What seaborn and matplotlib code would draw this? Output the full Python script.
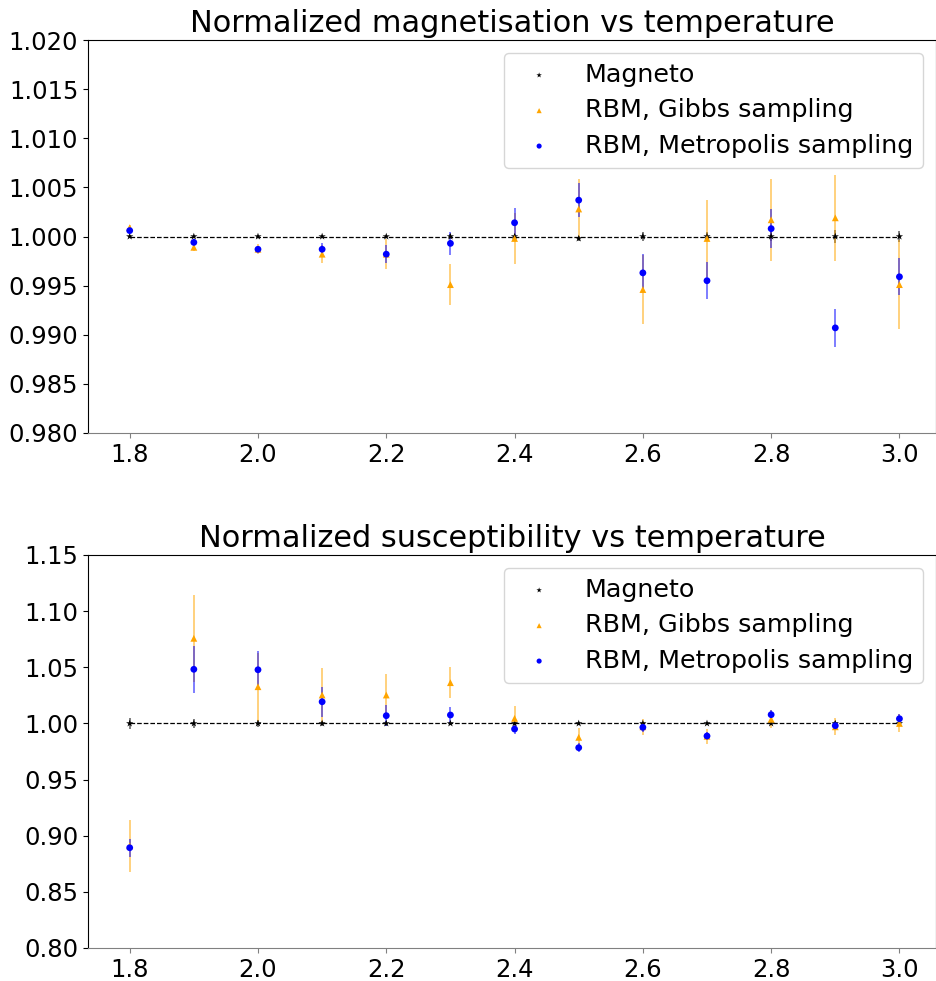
import numpy as np
import pandas as pd
import matplotlib
matplotlib.use("Agg")
import matplotlib.pyplot as plt
import seaborn as sns

temps = [1.8, 1.9, 2.0, 2.1, 2.2, 2.3, 2.4, 2.5, 2.6, 2.7, 2.8, 2.9, 3.0]
reference = [1.0] * 13

# Magnetisation
mag_magneto = [1.0, 1.0, 1.0, 1.0, 1.0, 1.0, 1.0, 0.9998, 1.0, 1.0, 1.0, 1.0, 1.0]
mag_magneto_err = [0.0002, 0.0002, 0.0002, 0.0002, 0.0002, 0.0003, 0.0003, 0.0003, 0.0005, 0.0005, 0.0005, 0.0007, 0.0006]
mag_gibbs = [1.0009, 0.9989, 0.9987, 0.9982, 0.9982, 0.9951, 0.9998, 1.0028, 0.9946, 0.9998, 1.0017, 1.0019, 0.9951]
mag_gibbs_err = [0.0003, 0.0004, 0.0005, 0.0009, 0.0015, 0.0021, 0.0026, 0.0031, 0.0035, 0.0039, 0.0042, 0.0044, 0.0045]
mag_metro = [1.0006, 0.9994, 0.9987, 0.9987, 0.9982, 0.9993, 1.0014, 1.0037, 0.9963, 0.9955, 1.0008, 0.9907, 0.9959]
mag_metro_err = [0.0002, 0.0003, 0.0003, 0.0006, 0.0009, 0.0012, 0.0015, 0.0017, 0.0019, 0.0019, 0.0020, 0.0019, 0.0019]

# Susceptibility
sus_magneto = [1.0, 1.0, 1.0, 1.0, 1.0, 1.0, 1.0, 1.0, 1.0, 1.0, 1.0, 1.0, 1.0]
sus_magneto_err = [0.005, 0.004, 0.003, 0.002, 0.002, 0.001, 0.001, 0.001, 0.001, 0.001, 0.001, 0.001, 0.001]
sus_gibbs = [0.891, 1.0758, 1.0327, 1.0253, 1.0253, 1.0363, 1.0045, 0.9876, 0.997, 0.9885, 1.0037, 0.997, 1.0]
sus_gibbs_err = [0.023, 0.0386, 0.0303, 0.024, 0.0184, 0.0137, 0.011, 0.008, 0.007, 0.0067, 0.008, 0.0074, 0.008]
sus_metro = [0.8893, 1.0482, 1.0478, 1.0193, 1.0069, 1.0075, 0.995, 0.9784, 0.9965, 0.9888, 1.0078, 0.998, 1.0042]
sus_metro_err = [0.0079, 0.0208, 0.017, 0.0134, 0.0095, 0.0073, 0.0048, 0.004, 0.004, 0.004, 0.004, 0.004, 0.004]

labels = ["Magneto", "RBM, Gibbs sampling", "RBM, Metropolis sampling"]
colors = ["black", "orange", "blue"]
markers = ["*", "^", "o"]

sns.set_style("ticks")
plt.rcParams["font.family"] = ["DejaVu Sans"]
plt.rcParams.update({"text.color": "black", "axes.labelcolor": "black",
                     "xtick.color": "black", "ytick.color": "black"})

fig = plt.figure(figsize=(9.37, 9.81), dpi=100)
W, H = 937, 981
ax1 = fig.add_axes([88 / W, 1 - 433 / H, (936 - 88) / W, (433 - 40) / H])
ax2 = fig.add_axes([88 / W, 1 - 948 / H, (936 - 88) / W, (948 - 555) / H])


def draw(ax, series, title, ylim, yticks, yfmt):
    ref = pd.DataFrame({"T": temps, "v": reference})
    sns.lineplot(data=ref, x="T", y="v", ax=ax, color="black",
                 linestyle="--", linewidth=0.9, zorder=1, legend=False)
    for (vals, errs), lab, col, mk in zip(series, labels, colors, markers):
        df = pd.DataFrame({"T": temps, "v": vals, "e": errs})
        ax.errorbar(df["T"], df["v"], yerr=df["e"], fmt="none", ecolor=col,
                    alpha=0.55, elinewidth=1.3, zorder=2)
        sns.scatterplot(data=df, x="T", y="v", ax=ax, color=col, marker=mk,
                        s=24 if mk != "*" else 30, edgecolor="none", label=lab,
                        zorder=3)
    ax.set_title(title, fontsize=21.9)
    ax.set_ylim(*ylim)
    ax.set_yticks(yticks)
    ax.set_yticklabels([yfmt.format(t) for t in yticks])
    ax.set_xticks([1.8, 2.0, 2.2, 2.4, 2.6, 2.8, 3.0])
    ax.set_xticklabels(["1.8", "2.0", "2.2", "2.4", "2.6", "2.8", "3.0"])
    ax.set_xlim(1.735, 3.057)
    ax.tick_params(labelsize=17.5, length=3.5)
    ax.tick_params(axis="x", color="#808080")
    ax.set_xlabel("")
    ax.set_ylabel("")
    for s in ax.spines.values():
        s.set_visible(True)
        s.set_color("black")
    ax.spines["bottom"].set_color("#808080")
    leg = ax.legend(loc="upper right", fontsize=18.3, markerscale=0.75,
                    frameon=True, borderpad=0.4, handletextpad=0.8,
                    labelspacing=0.45)
    leg.get_frame().set_edgecolor("#cccccc")


draw(ax1, [(mag_magneto, mag_magneto_err), (mag_gibbs, mag_gibbs_err), (mag_metro, mag_metro_err)],
     "Normalized magnetisation vs temperature", (0.98, 1.02),
     np.round(np.arange(0.98, 1.0201, 0.005), 3), "{:.3f}")
draw(ax2, [(sus_magneto, sus_magneto_err), (sus_gibbs, sus_gibbs_err), (sus_metro, sus_metro_err)],
     "Normalized susceptibility vs temperature", (0.80, 1.15),
     np.round(np.arange(0.80, 1.1501, 0.05), 2), "{:.2f}")

fig.savefig("out.png", dpi=100)
